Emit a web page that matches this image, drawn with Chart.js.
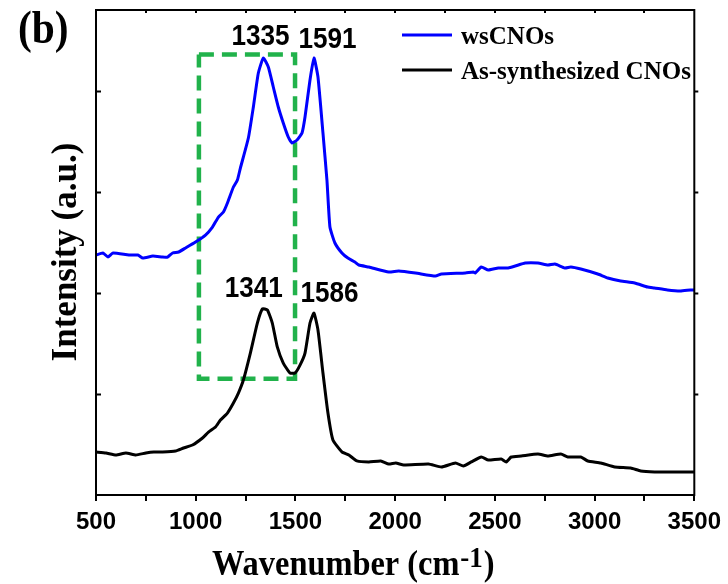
<!DOCTYPE html>
<html>
<head>
<meta charset="utf-8">
<script src="https://cdn.jsdelivr.net/npm/chart.js@4.4.1/dist/chart.umd.min.js"></script>
<style>
html,body{margin:0;padding:0;background:#fff;}
#wrap{width:728px;height:584px;}
</style>
</head>
<body>
<div id="wrap"><canvas id="c" width="728" height="584"></canvas></div>
<script>
// ---- data ----
const wsWavenumber = [500,535,560,585,665,710,735,785,834,859,884,914,949,999,1049,1084,1114,1139,1159,1189,1209,1224,1264,1289,1314,1339,1364,1389,1414,1439,1464,1483,1508,1533,1548,1573,1593,1613,1638,1658,1673,1698,1733,1763,1798,1818,1868,1968,2018,2102,2202,2232,2352,2392,2402,2432,2467,2517,2567,2602,2652,2716,2766,2801,2851,2881,2931,3016,3066,3131,3201,3266,3300,3365,3430,3480,3500];
const wsIntensity  = [2.375,2.395,2.355,2.395,2.375,2.375,2.345,2.365,2.355,2.355,2.395,2.405,2.445,2.504,2.573,2.652,2.751,2.801,2.890,3.048,3.117,3.236,3.533,3.840,4.176,4.325,4.236,4.038,3.840,3.682,3.543,3.484,3.514,3.583,3.741,4.107,4.325,4.137,3.583,3.117,2.652,2.494,2.395,2.345,2.306,2.276,2.256,2.207,2.217,2.197,2.167,2.187,2.197,2.207,2.197,2.256,2.227,2.247,2.247,2.266,2.296,2.296,2.276,2.286,2.247,2.256,2.236,2.187,2.148,2.118,2.098,2.058,2.049,2.029,2.019,2.029,2.030];

const asWavenumber = [500,550,600,650,700,750,790,834,899,939,984,1034,1064,1099,1124,1159,1189,1214,1239,1274,1309,1334,1359,1384,1409,1439,1473,1498,1523,1548,1573,1593,1613,1638,1663,1688,1733,1768,1808,1868,1928,1968,2003,2043,2167,2232,2302,2342,2382,2432,2467,2532,2557,2582,2632,2716,2766,2831,2866,2931,2966,3031,3101,3181,3231,3301,3365,3430,3500];
const asIntensity  = [0.426,0.416,0.396,0.416,0.396,0.416,0.426,0.426,0.435,0.465,0.495,0.564,0.623,0.673,0.742,0.811,0.910,1.009,1.138,1.405,1.702,1.841,1.831,1.702,1.465,1.306,1.207,1.207,1.286,1.405,1.702,1.801,1.633,1.207,0.811,0.544,0.426,0.396,0.337,0.327,0.337,0.307,0.317,0.297,0.307,0.277,0.317,0.287,0.327,0.376,0.346,0.356,0.327,0.376,0.386,0.406,0.386,0.406,0.376,0.376,0.337,0.317,0.277,0.267,0.238,0.228,0.228,0.228,0.228];

const boxWavenumber = [1016,1498,1498,1016,1016];
const boxIntensity  = [4.36,4.36,1.15,1.15,4.36];

const xTickValues = [500,1000,1500,2000,2500,3000,3500];
const peakLabels = [
  {text:'1335', x:1335, y:4.325},
  {text:'1591', x:1591, y:4.325},
  {text:'1341', x:1341, y:1.841},
  {text:'1586', x:1586, y:1.801}
];
const legendLabels = ['wsCNOs','As-synthesized CNOs'];
const seriesColors = ['#0000ff','#000000'];

function pts(xs, ys){ return xs.map((x,i)=>({x:x, y:ys[i]})); }

const decor = {
  id:'decor',
  afterDatasetsDraw(chart){
    const {ctx, chartArea:a, scales:{x,y}} = chart;
    ctx.save();
    // frame
    ctx.strokeStyle='#000'; ctx.lineWidth=2;
    ctx.strokeRect(a.left, a.top, a.right-a.left, a.bottom-a.top);
    // y ticks: left inward, right outward
    [1,2,3,4].forEach(v=>{
      const py = Math.round(y.getPixelForValue(v))+0.5;
      ctx.beginPath(); ctx.moveTo(a.left, py); ctx.lineTo(a.left+5, py); ctx.stroke();
      ctx.beginPath(); ctx.moveTo(a.right, py); ctx.lineTo(a.right+4, py); ctx.stroke();
    });
    // top ticks
    for(let v=750; v<3500; v+=250){
      const px = Math.round(x.getPixelForValue(v));
      ctx.beginPath(); ctx.moveTo(px, a.top); ctx.lineTo(px, a.top+3); ctx.stroke();
    }
    // peak labels (pixel offsets from the peak)
    const offs = [[-2,-13],[14,-10],[-10,-12],[17,-11]];
    ctx.fillStyle='#000';
    ctx.textAlign='center'; ctx.textBaseline='alphabetic';
    peakLabels.forEach((p,i)=>{
      const px = x.getPixelForValue(p.x)+offs[i][0];
      const py = y.getPixelForValue(p.y)+offs[i][1];
      ctx.save();
      ctx.translate(px, py);
      ctx.scale(0.9,1);
      ctx.font='bold 29px "Liberation Sans", Arial, sans-serif';
      ctx.fillText(p.text, 0, 0);
      ctx.restore();
    });
    // legend
    const ly = [35,70];
    legendLabels.forEach((t,i)=>{
      ctx.strokeStyle = seriesColors[i]; ctx.lineWidth=3;
      ctx.beginPath(); ctx.moveTo(402, ly[i]); ctx.lineTo(452, ly[i]); ctx.stroke();
      ctx.fillStyle='#000';
      ctx.textAlign='left';
      ctx.font='bold 25px "Liberation Serif", "Times New Roman", serif';
      ctx.fillText(t, 461, ly[i]+9);
    });
    // (b)
    ctx.save();
    ctx.translate(18,43); ctx.scale(0.9,1);
    ctx.font='bold 46px "Liberation Serif", "Times New Roman", serif';
    ctx.textAlign='left';
    ctx.fillText('(b)',0,0);
    ctx.restore();
    // x title
    ctx.save();
    ctx.translate(212,575); ctx.scale(0.9,1);
    ctx.textAlign='left';
    ctx.font='bold 36px "Liberation Serif", "Times New Roman", serif';
    let t1='Wavenumber (cm';
    ctx.fillText(t1,0,0);
    let w1=ctx.measureText(t1).width;
    ctx.font='bold 30px "Liberation Serif", "Times New Roman", serif';
    ctx.fillText('-1',w1+1,-8);
    let w2=ctx.measureText('-1').width;
    ctx.font='bold 36px "Liberation Serif", "Times New Roman", serif';
    ctx.fillText(')',w1+w2+2,0);
    ctx.restore();
    // y title
    ctx.save();
    ctx.translate(76,252); ctx.rotate(-Math.PI/2);
    ctx.textAlign='center';
    ctx.font='bold 35px "Liberation Serif", "Times New Roman", serif';
    ctx.fillText('Intensity (a.u.)',0,0);
    ctx.restore();
    ctx.restore();
  }
};

new Chart(document.getElementById('c'), {
  type:'line',
  data:{
    datasets:[
      {label:legendLabels[0], data:pts(wsWavenumber, wsIntensity), borderColor:seriesColors[0], borderWidth:3, pointRadius:0, tension:0.15, fill:false},
      {label:legendLabels[1], data:pts(asWavenumber, asIntensity), borderColor:seriesColors[1], borderWidth:3, pointRadius:0, tension:0.15, fill:false},
      {label:'box', data:pts(boxWavenumber, boxIntensity), borderColor:'#21b24b', borderWidth:4.5, borderDash:[15,8], pointRadius:0, tension:0, fill:false}
    ]
  },
  options:{
    responsive:false, animation:false,
    layout:{padding:{left:0,right:31,top:10,bottom:0}},
    plugins:{legend:{display:false}, tooltip:{enabled:false}},
    scales:{
      x:{
        type:'linear', min:500, max:3500,
        afterFit(s){ s.height=89; },
        ticks:{stepSize:250, autoSkip:false, maxRotation:0, padding:7,
          color:'#000', font:{family:'"Liberation Sans", Arial, sans-serif', size:24, weight:'bold'},
          callback:(v)=> xTickValues.includes(v) ? String(v) : ''},
        grid:{display:true, drawOnChartArea:false, drawTicks:true, tickLength:6, color:'#000', lineWidth:2},
        border:{display:true, color:'#000', width:2}
      },
      y:{
        type:'linear', min:0, max:4.8,
        afterFit(s){ s.width=96; },
        ticks:{display:false, stepSize:1},
        grid:{display:false},
        border:{display:true, color:'#000', width:2}
      }
    }
  },
  plugins:[decor]
});
</script>
</body>
</html>
